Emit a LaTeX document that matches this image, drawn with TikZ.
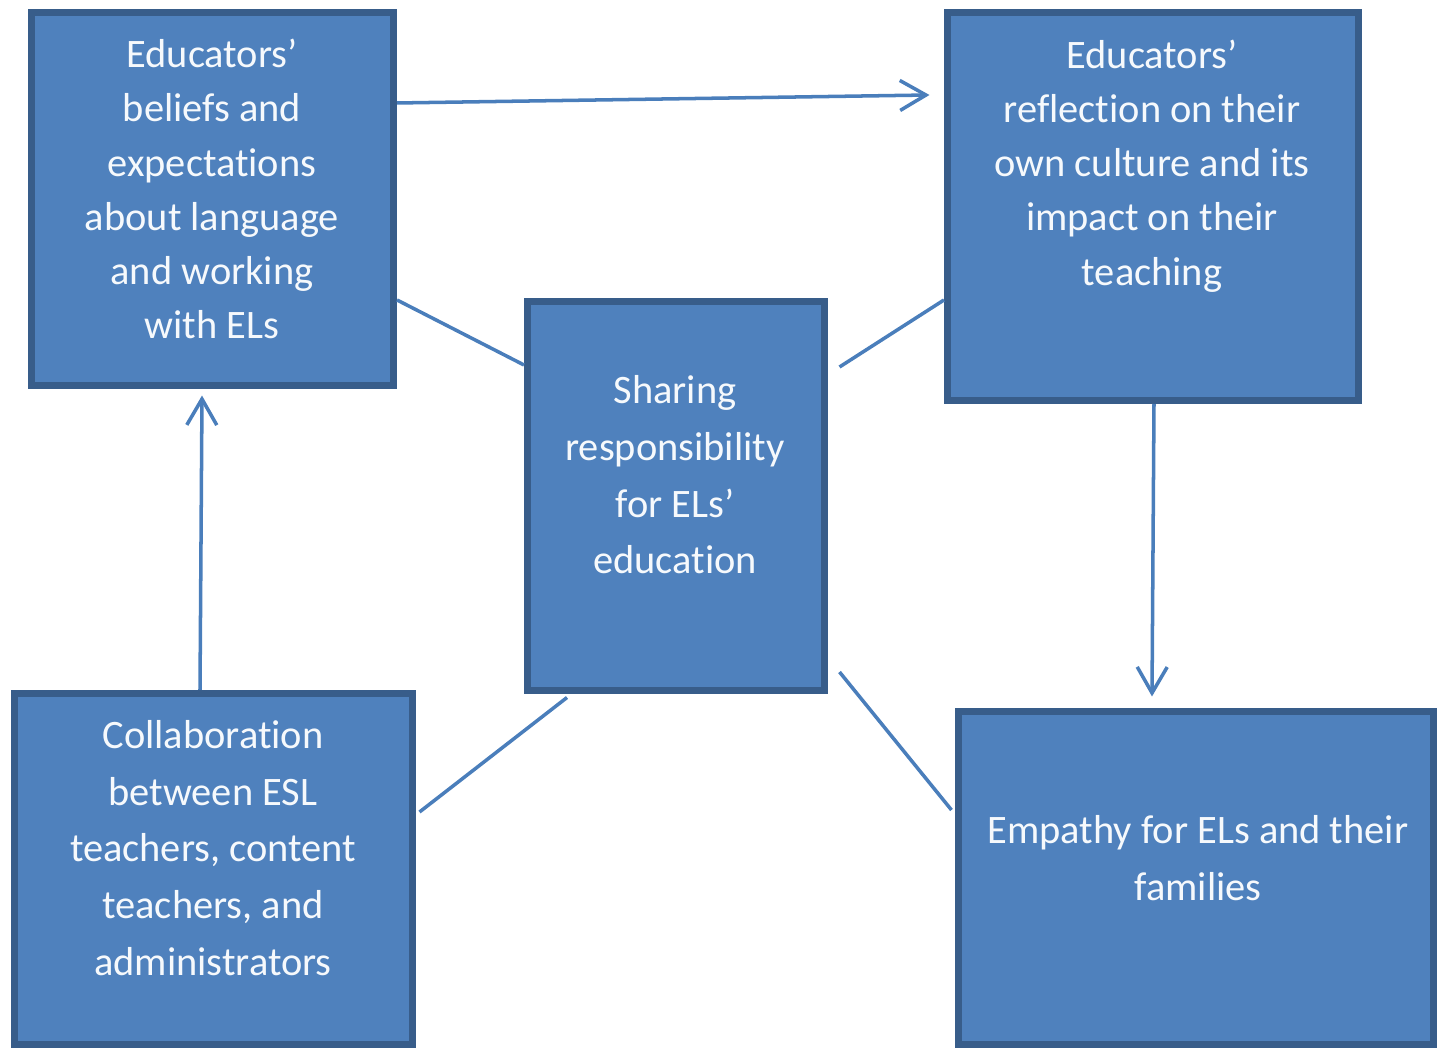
\documentclass[tikz,border=0pt]{standalone}
\usepackage{fontspec}
\setmainfont{Carlito}[Ligatures=NoCommon]
\usepackage{tikz}
\usetikzlibrary{positioning,calc,arrows.meta}

\definecolor{boxfill}{HTML}{4F81BD}
\definecolor{boxedge}{HTML}{385D8A}
\definecolor{linkblue}{HTML}{4A7EBB}

\tikzset{
  box/.style={rectangle, draw=boxedge, fill=boxfill, line width=2pt, inner sep=0pt},
  boxtext/.style={text=white!95!boxfill, align=center, inner sep=0pt},
  loose/.style={font=\fontsize{11.5}{15.4}\selectfont},
  looser/.style={font=\fontsize{11.5}{16.1}\selectfont},
  link/.style={draw=linkblue, line width=1pt},
  linkarrow/.style={link, -{Straight Barb[length=0.26cm, width=0.3cm, line width=1pt]}}
}

\begin{document}
\begin{tikzpicture}
    \useasboundingbox (0,0) rectangle (14.37,10.48);
    \clip (0,0) rectangle (14.37,10.48);

    % Beliefs
    \node[box, minimum width=3.62cm, minimum height=3.73cm] (beliefs) at (2.125, 8.49) {};
    \node[boxtext, loose] (beliefstext) at (2.12, 8.59) {Educators'\\beliefs and\\expectations\\about language\\and working\\with ELs};

    % Reflection
    \node[box, minimum width=4.11cm, minimum height=3.88cm] (reflection) at (11.53, 8.415) {};
    \node[boxtext, loose] (reflectiontext) at (11.52, 8.82) {Educators'\\reflection on their\\own culture and its\\impact on their\\teaching};

    % Sharing
    \node[box, minimum width=2.97cm, minimum height=3.89cm] (sharing) at (6.76, 5.52) {};
    \node[boxtext, looser] (sharingtext) at (6.75, 5.73) {Sharing\\responsibility\\for ELs'\\education};

    % Collaboration
    \node[box, minimum width=3.98cm, minimum height=3.51cm] (collab) at (2.135, 1.79) {};
    \node[boxtext, looser] (collabtext) at (2.13, 2.00) {Collaboration\\between ESL\\teachers, content\\teachers, and\\administrators};

    % Empathy
    \node[box, minimum width=4.75cm, minimum height=3.33cm] (empathy) at (11.96, 1.70) {};
    \node[boxtext, looser] (empathytext) at (11.98, 1.90) {Empathy for ELs and their\\families};

    % arrows
    \draw[linkarrow] ($(beliefs.east)+(0,0.96)$) -- ($(reflection.west)+(-0.145,1.115)$);
    \draw[linkarrow] ($(reflection.south)+(0.01,0)$) -- ($(empathy.north)+(-0.44,0.115)$);
    \draw[linkarrow] ($(collab.north)+(-0.135,0)$) -- ($(beliefs.south)+(-0.105,-0.065)$);

    % lines to the middle
    \draw[link] ($(beliefs.east)+(0,-1.01)$) -- ($(sharing.west)+(0,1.31)$);
    \draw[link] ($(sharing.east)+(0.115,1.29)$) -- ($(reflection.west)+(0,-0.935)$);
    \draw[link] ($(sharing.south)+(-1.09,-0.035)$) -- ($(collab.east)+(0.035,0.57)$);
    \draw[link] ($(sharing.east)+(0.115,-1.76)$) -- ($(empathy.west)+(-0.035,0.68)$);
\end{tikzpicture}
\end{document}
